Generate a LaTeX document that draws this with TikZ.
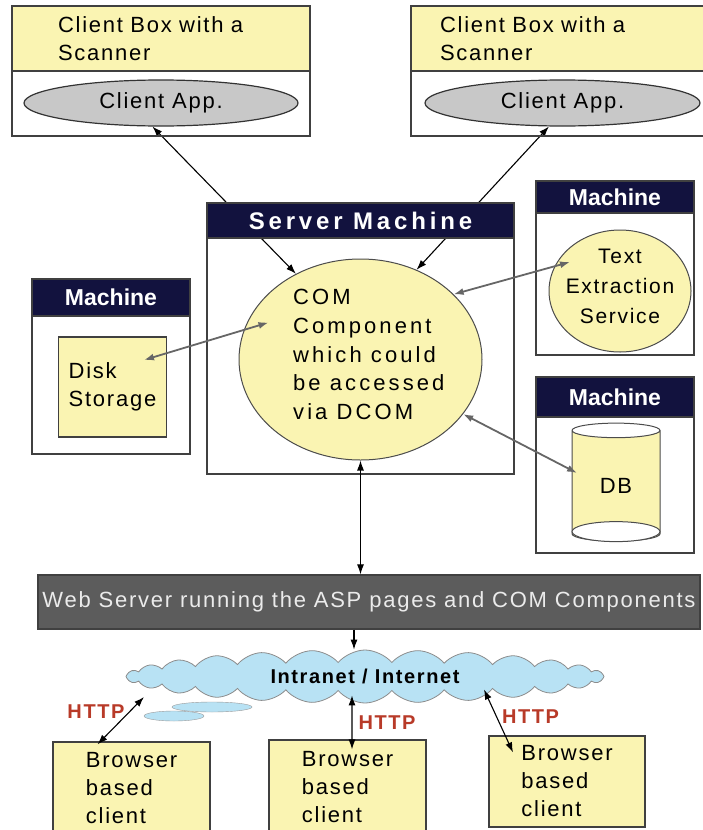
\documentclass[tikz,border=0pt]{standalone}
\usepackage{fontspec}
\setmainfont{Liberation Sans}[LetterSpace=8]
\newfontfamily\headfont{Liberation Sans}
\newfontfamily\serverfont{Liberation Sans}[LetterSpace=16]
\newfontfamily\comfont{Liberation Sans}[LetterSpace=14]
\usetikzlibrary{shapes.geometric,shapes.symbols,arrows.meta,backgrounds}

\definecolor{paleyellow}{RGB}{250,244,178}
\definecolor{navy}{RGB}{18,18,62}
\definecolor{appgray}{RGB}{200,200,200}
\definecolor{bargray}{RGB}{92,92,92}
\definecolor{skyblue}{RGB}{184,226,244}
\definecolor{httpred}{RGB}{184,58,40}

\begin{document}
\begin{tikzpicture}[x=1pt, y=-1pt,
  every node/.style = {inner sep=0pt, font=\fontsize{22}{28}\selectfont},
  frame/.style = {rectangle, draw=black!75, line width=1.2pt},
  yellowbox/.style = {frame, fill=paleyellow},
  header/.style = {frame, fill=navy, text=white,
    font=\headfont\bfseries\fontsize{23}{28}\selectfont},
  app/.style = {ellipse, draw=black!80, line width=1.2pt, fill=appgray},
  bubble/.style = {ellipse, draw=black!70, line width=1pt, fill=paleyellow},
  link/.style = {<->, >={Latex[length=10pt,width=7pt]}, line width=1.1pt},
  glink/.style = {link, draw=black!60, line width=1.8pt},
  http/.style = {text=httpred, font=\bfseries\fontsize{20}{24}\selectfont}]

  \useasboundingbox (0,0) rectangle (703,830);

  % client boxes
  \node[frame, minimum width=298pt, minimum height=130pt] (boxL) at (161,71) {};
  \node[yellowbox, anchor=north west, minimum width=298pt, minimum height=65pt,
    text width=206pt, inner xsep=46pt, align=left] (headL) at (boxL.north west)
    {Client Box with a\\Scanner};
  \node[app, minimum width=274pt, minimum height=46pt] (appL) at (161,103) {Client App.};

  \node[frame, minimum width=300pt, minimum height=130pt] (boxR) at (561,71) {};
  \node[yellowbox, anchor=north west, minimum width=300pt, minimum height=65pt,
    text width=242pt, inner xsep=29pt, align=left] (headR) at (boxR.north west)
    {Client Box with a\\Scanner};
  \node[app, minimum width=275pt, minimum height=46pt] (appR) at (562.5,103) {Client App.};

  % server
  \node[frame, minimum width=307pt, minimum height=271pt] (server) at (360.5,338.5) {};
  \node[header, anchor=north west, minimum width=307pt, minimum height=35pt,
    font=\serverfont\bfseries\fontsize{24}{26}\selectfont] (serverhead)
    at (server.north west) {Server Machine};
  \node[bubble, minimum width=243pt, minimum height=201pt] (com) at (360.5,359.5) {};
  \node[anchor=west, align=left, font=\comfont\fontsize{22}{28.7}\selectfont] (comtext)
    at (293,354.5) {COM\\Component\\which could\\be accessed\\via DCOM};

  % machines
  \node[frame, minimum width=158pt, minimum height=175pt] (diskbox) at (111,366.5) {};
  \node[header, anchor=north west, minimum width=158pt, minimum height=37pt] (diskhead)
    at (diskbox.north west) {Machine};
  \node[yellowbox, minimum width=108pt, minimum height=100pt, align=left] (disk)
    at (112.5,387) {Disk\\Storage};

  \node[frame, minimum width=158pt, minimum height=174pt] (textbox) at (615,268) {};
  \node[header, anchor=north west, minimum width=158pt, minimum height=32pt] (texthead)
    at (textbox.north west) {Machine};
  \node[bubble, minimum width=142pt, minimum height=122pt] (extract) at (620,291) {};
  \node[align=center, font=\fontsize{21}{30}\selectfont] (extracttext) at (620,286)
    {Text\\Extraction\\Service};

  \node[frame, minimum width=158pt, minimum height=176pt] (dbbox) at (615,465) {};
  \node[header, anchor=north west, minimum width=158pt, minimum height=40pt] (dbhead)
    at (dbbox.north west) {Machine};
  \node[cylinder, shape border rotate=90, aspect=0.45, draw=black!70, line width=1pt,
    cylinder uses custom fill, cylinder body fill=paleyellow, cylinder end fill=white,
    minimum width=88pt, minimum height=118pt] (db) at (616,486) {DB};
  \draw[draw=black!70, line width=1pt, fill=white] ([yshift=10pt]db.south) ellipse (44pt and 10pt);

  % web server and network
  \node[frame, fill=bargray, text=black!8, minimum width=662pt, minimum height=54pt] (web)
    at (369,602) {Web Server running the ASP pages and COM Components};

  \fill[skyblue, draw=black!40] (212,707) ellipse (40pt and 5pt);
  \fill[skyblue, draw=black!40] (174,716) ellipse (30pt and 5pt);
  \node[cloud, cloud puffs=28, cloud puff arc=100, aspect=9, draw=black!45, line width=0.8pt,
    fill=skyblue, minimum width=478pt, minimum height=53pt,
    font=\bfseries\fontsize{20}{24}\selectfont] (net) at (365,676.5) {Intranet / Internet};

  \node[yellowbox, minimum width=157pt, minimum height=92pt, align=left] (brL)
    at (131.5,788) {Browser\\based\\client};
  \node[yellowbox, minimum width=157pt, minimum height=94pt, align=left] (brM)
    at (347.5,787) {Browser\\based\\client};
  \node[yellowbox, minimum width=156pt, minimum height=91pt, align=left] (brR)
    at (567,781.5) {Browser\\based\\client};

  % connectors
  \begin{scope}[on background layer]
    \draw[link] (appL.250) -- (com.127);
    \draw[link] (appR.240) -- (com.58);
  \end{scope}
  \draw[glink] ([xshift=-92pt,yshift=37pt]com.center) -- ([xshift=31.5pt,yshift=27pt]disk.center);
  \draw[glink] (com.35) -- ([xshift=-50pt,yshift=29pt]extract.center);
  \draw[glink] (com.-28) -- ([xshift=-39pt,yshift=13pt]db.center);
  \draw[link] (com.south) -- (com.south |- web.north);
  \draw[-{Latex[length=10pt,width=7pt]}, line width=1.1pt] ([xshift=-15pt]web.south)
    -- ([xshift=-15pt]web.south |- net.north);

  \draw[link] ([xshift=-221pt,yshift=-20.5pt]net.center) -- node[http, pos=0.3, left=5pt] {HTTP}
    ([xshift=-34pt,yshift=-3pt]brL.north);
  \draw[link] ([xshift=-13pt,yshift=8pt]net.south) -- node[http, right=6pt] {HTTP}
    ([xshift=4.5pt,yshift=-10pt]brM.north);
  \draw[link] ([xshift=119pt,yshift=-13pt]net.center) -- node[http, pos=0.43, right=5pt] {HTTP}
    ([xshift=-54pt,yshift=-17pt]brR.north);
\end{tikzpicture}
\end{document}
